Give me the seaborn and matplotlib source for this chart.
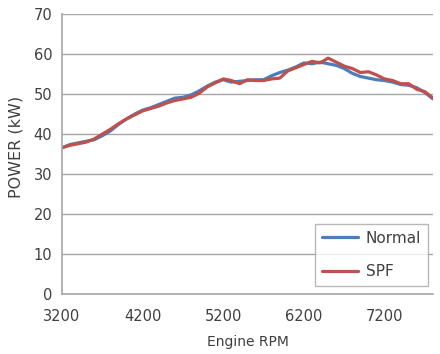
import numpy as np
import pandas as pd
import matplotlib
matplotlib.use("Agg")
import matplotlib.pyplot as plt
import seaborn as sns

# Engine speed sweep and measured power for both runs
rpm = list(range(3200, 7900, 100))
normal_kw = [36.6, 37.4, 37.8, 38.2, 38.6, 39.6, 40.8, 42.4, 43.8, 45.0,
             46.0, 46.6, 47.4, 48.2, 49.0, 49.2, 49.8, 50.8, 52.0, 53.0,
             53.6, 53.0, 53.2, 53.4, 53.6, 53.6, 54.6, 55.4, 56.0, 56.8,
             57.8, 57.6, 58.0, 57.6, 57.2, 56.4, 55.2, 54.4, 54.0, 53.6,
             53.4, 53.0, 52.4, 52.2, 51.6, 50.4, 48.8]
spf_kw = [36.6, 37.2, 37.6, 38.0, 38.8, 40.0, 41.2, 42.6, 43.8, 44.8,
          45.8, 46.4, 47.0, 47.8, 48.4, 48.8, 49.2, 50.2, 51.8, 52.8,
          53.8, 53.4, 52.6, 53.6, 53.4, 53.4, 53.8, 54.0, 55.8, 56.6,
          57.4, 58.2, 57.8, 59.0, 58.0, 57.0, 56.4, 55.4, 55.6, 54.8,
          53.8, 53.4, 52.6, 52.6, 51.2, 50.6, 49.0]
x_ticks = [3200, 4200, 5200, 6200, 7200]
y_ticks = list(range(0, 80, 10))

df = pd.DataFrame({
    "rpm": rpm * 2,
    "power": normal_kw + spf_kw,
    "run": ["Normal"] * len(rpm) + ["SPF"] * len(rpm),
})

sns.set_style("white")
plt.rcParams["font.family"] = ["DejaVu Sans"]

fig = plt.figure(figsize=(4.4, 3.54), dpi=100)
ax = fig.add_axes([0.141, 0.1695, 0.843, 0.7905])

sns.lineplot(data=df, x="rpm", y="power", hue="run",
             palette={"Normal": "#4a7ebb", "SPF": "#c0504d"},
             linewidth=2.3, ax=ax)

ax.set_xlim(3200, 7800)
ax.set_ylim(0, 70)
ax.set_xticks(x_ticks)
ax.set_yticks(y_ticks)
ax.yaxis.grid(True, color="#a6a6a6", linewidth=1.0)
ax.set_axisbelow(True)
for side in ["top", "right"]:
    ax.spines[side].set_visible(False)
for side in ["left", "bottom"]:
    ax.spines[side].set_color("#a6a6a6")
    ax.spines[side].set_linewidth(1.2)
ax.tick_params(axis="y", length=4, color="#a6a6a6", labelsize=10.5, labelcolor="#404040", pad=3)
ax.tick_params(axis="x", length=0, labelsize=10.5, labelcolor="#404040", pad=11)
ax.set_xlabel("Engine RPM", fontsize=10, color="#404040", labelpad=8)
ax.set_ylabel("POWER (kW)", fontsize=11.5, color="#404040")
ax.yaxis.set_label_coords(-0.105, 0.527)

leg = ax.legend(loc="lower right", fontsize=11, frameon=True, fancybox=False,
                edgecolor="#a6a6a6", handlelength=2.4, handletextpad=0.5,
                borderpad=0.45, labelspacing=1.2, borderaxespad=0,
                bbox_to_anchor=(0.987, 0.029))
leg.get_frame().set_linewidth(1.0)
for t in leg.get_texts():
    t.set_color("#404040")

fig.savefig("out.png", dpi=100)
plt.close(fig)
